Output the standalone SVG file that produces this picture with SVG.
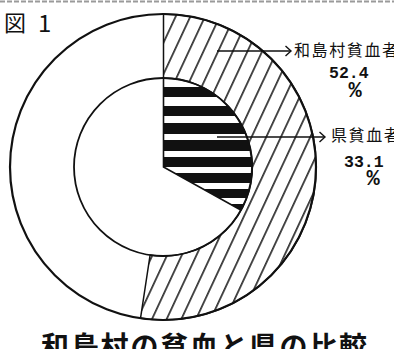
<svg xmlns="http://www.w3.org/2000/svg" width="394" height="349" viewBox="0 0 394 349">
  <style>
    .ln { fill: none; stroke: #111; }
    .jp { font-family: "Noto Sans CJK JP", "Noto Sans CJK SC", sans-serif; fill: #111; }
    .num { font-family: "Liberation Mono", "DejaVu Sans Mono", monospace; fill: #111; font-weight: bold; }
  </style>
  <defs>
    <pattern id="hatch" patternUnits="userSpaceOnUse" width="13.3" height="20" patternTransform="rotate(25)">
      <line x1="6.6" y1="-2" x2="6.6" y2="22" stroke="#111" stroke-width="1.5"/>
    </pattern>
    <clipPath id="innerClip">
      <path d="M163.5,167 L163.5,78 A89,89 0 0 1 241.2,210.3 Z"/>
    </clipPath>
    <marker id="chev" markerUnits="userSpaceOnUse" markerWidth="8" markerHeight="12" refX="6" refY="5.5" orient="auto" overflow="visible">
      <path d="M0.5,0.5 L6,5.5 L0.5,10.5" fill="none" stroke="#111" stroke-width="1.4"/>
    </marker>
  </defs>
  <rect width="394" height="349" fill="#fff"/>
  <line x1="0" y1="1.5" x2="394" y2="1.5" stroke="#9a9a9a" stroke-width="2" stroke-dasharray="5 2"/>

  <g id="fig-label">
    <text class="jp" x="4" y="31" font-size="22">図</text>
    <text class="jp" x="38" y="32" font-size="24" font-weight="normal">1</text>
  </g>

  <g id="wajima-sector">
    <path d="M163.5,14 A153,153 0 1 1 140.5,318.3 L150.1,255 A89,89 0 1 0 163.5,78 Z" fill="url(#hatch)" stroke="#111" stroke-width="1.5"/>
  </g>

  <g id="outer-circle">
    <circle cx="163" cy="167" r="153" class="ln" stroke-width="2.2"/>
  </g>
  <g id="inner-circle">
    <circle cx="163" cy="167" r="89" class="ln" stroke-width="1.8"/>
  </g>

  <g id="ken-sector">
    <g clip-path="url(#innerClip)" fill="#111">
      <rect x="160" y="87" width="100" height="10"/>
      <rect x="160" y="106" width="100" height="10"/>
      <rect x="160" y="123" width="100" height="11"/>
      <rect x="160" y="140" width="100" height="11"/>
      <rect x="160" y="157" width="100" height="10"/>
      <rect x="160" y="173" width="100" height="10"/>
      <rect x="160" y="189" width="100" height="9"/>
      <rect x="160" y="204" width="100" height="9"/>
    </g>
    <path d="M163.5,78 L163.5,167 L241.2,210.3" class="ln" stroke-width="1.6"/>
  </g>

  <g id="connectors">
    <line x1="217" y1="51" x2="291" y2="51" class="ln" stroke-width="1.4" marker-end="url(#chev)"/>
    <line x1="217" y1="137" x2="325" y2="137" class="ln" stroke-width="1.4" marker-end="url(#chev)"/>
  </g>

  <g id="label-wajima">
    <text class="jp" x="294" y="56" font-size="16" letter-spacing="1.6">和島村貧血者</text>
    <text class="num" x="329" y="78" font-size="16.5">52.4</text>
    <text class="num" x="355" y="97" font-size="22" text-anchor="middle">%</text>
  </g>

  <g id="label-ken">
    <text class="jp" x="331" y="141" font-size="16" letter-spacing="1.6">県貧血者</text>
    <text class="num" x="344" y="167" font-size="16.5">33.1</text>
    <text class="num" x="373" y="185" font-size="22" text-anchor="middle">%</text>
  </g>

  <g id="title">
    <text class="jp" x="41" y="357" font-size="28" font-weight="bold" letter-spacing="1.8">和島村の貧血と県の比較</text>
  </g>
</svg>
